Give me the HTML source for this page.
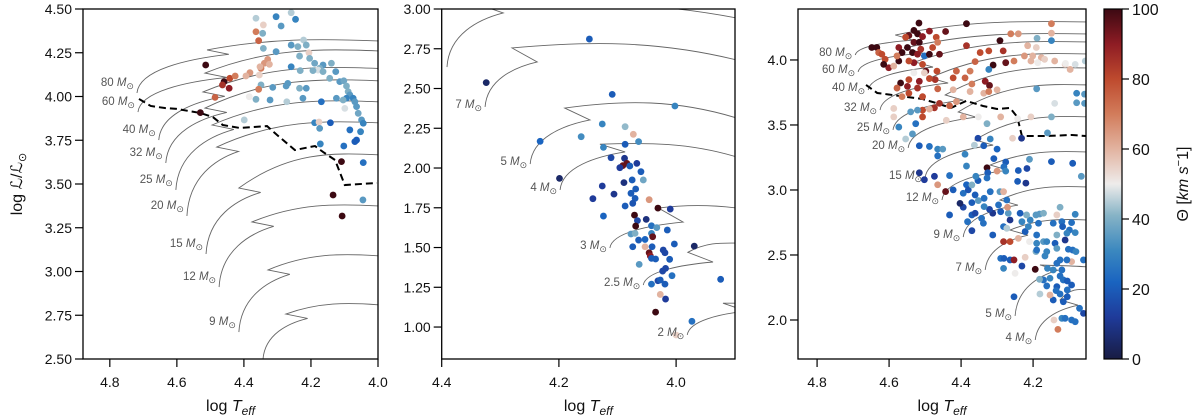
<!DOCTYPE html>
<html><head><meta charset="utf-8"><style>
html,body{margin:0;padding:0;background:#fff;}
svg{display:block;font-family:"Liberation Sans","DejaVu Sans",sans-serif;}
</style></head><body>
<svg id="chart" width="1200" height="417" viewBox="0 0 1200 417" xmlns="http://www.w3.org/2000/svg">
<defs>
<linearGradient id="cbgrad" x1="0" y1="1" x2="0" y2="0">
<stop offset="0" stop-color="#181c43"/><stop offset="0.12" stop-color="#1f3b9a"/><stop offset="0.22" stop-color="#1a64c0"/><stop offset="0.31" stop-color="#3b88bf"/><stop offset="0.41" stop-color="#86b3c6"/><stop offset="0.5" stop-color="#eeeceb"/><stop offset="0.6" stop-color="#e2b3a0"/><stop offset="0.7" stop-color="#d27c5b"/><stop offset="0.8" stop-color="#be4a2e"/><stop offset="0.9" stop-color="#8e1c24"/><stop offset="1" stop-color="#3c0912"/>
</linearGradient>
</defs>
</svg>
<script>
// ---------- data ----------
const trackMass1=["80","60","40","32","25","20","15","12","9",""];
const trackStartT1=[4.719,4.716,4.654,4.633,4.603,4.570,4.513,4.474,4.415,4.343];
const trackStartL1=[4.02,3.911,3.751,3.62,3.466,3.317,3.10,2.911,2.654,2.5];
const trackBackT1=[4.510,4.516,4.522,4.516,4.495,4.481,4.415,4.376,4.328,4.275];
const trackBackL1=[4.266,4.134,4.026,3.934,3.837,3.711,3.477,3.283,3.009,2.757];
const trackEndL1=[4.317,4.26,4.16,4.089,3.969,3.849,3.666,3.374,3.089,2.809];
const dashT1=[4.713,4.678,4.636,4.600,4.531,4.493,4.463,4.412,4.331,4.301,4.248,4.188,4.164,4.128,4.099,4.003];
const dashL1=[3.986,3.946,3.934,3.929,3.906,3.883,3.837,3.82,3.831,3.78,3.694,3.717,3.683,3.637,3.494,3.506];
const starT1=[4.364,4.304,4.259,4.246,4.342,4.289,4.364,4.344,4.356,4.342,4.304,4.259,4.239,4.222,4.214,4.206,4.234,4.204,4.189,4.164,4.139,4.174,4.179,4.259,4.232,4.194,4.164,4.126,4.144,4.114,4.102,4.094,4.089,4.084,4.074,4.069,4.064,4.059,4.049,4.044,4.094,4.099,4.104,4.124,4.169,4.224,4.234,4.214,4.269,4.274,4.314,4.349,4.356,4.364,4.384,4.322,4.272,4.399,4.189,4.176,4.142,4.174,4.084,4.052,4.064,4.069,4.102,4.172,4.044,4.109,4.514,4.459,4.464,4.444,4.442,4.426,4.486,4.530,4.382,4.394,4.354,4.349,4.339,4.329,4.324,4.352,4.134,4.107,4.045];
const starL1=[4.447,4.456,4.479,4.441,4.409,4.403,4.370,4.361,4.319,4.275,4.256,4.294,4.285,4.323,4.294,4.250,4.231,4.218,4.190,4.180,4.190,4.161,4.151,4.170,4.148,4.148,4.142,4.142,4.104,4.085,4.090,4.060,4.028,4.009,3.990,3.970,3.942,3.904,3.866,3.847,3.990,3.932,3.980,3.990,3.970,3.990,4.047,4.047,4.075,4.060,4.052,4.066,4.041,3.984,3.999,3.980,3.970,3.866,3.850,3.854,3.850,3.818,3.809,3.799,3.751,3.742,3.717,3.729,3.622,3.628,4.180,4.085,4.066,4.047,4.104,4.117,3.995,3.908,4.136,4.117,4.123,4.161,4.190,4.212,4.184,4.170,3.437,3.317,3.409];
const starV1=[45,30,45,30,55,35,70,40,75,40,35,35,40,45,40,55,40,40,38,35,40,40,48,30,40,40,40,35,40,35,38,40,40,35,30,35,35,38,35,30,30,48,40,35,25,35,40,35,35,35,35,40,70,40,50,35,45,45,30,55,20,35,25,30,20,20,25,30,25,100,100,100,85,90,80,70,75,100,65,60,55,70,65,65,60,60,100,100,35];

const trackMass2=["","7","5","4","3","2.5","2"];
const trackStartT2=[4.391,4.326,4.249,4.198,4.113,4.056,3.981];
const trackStartL2=[2.635,2.384,2.025,1.862,1.497,1.264,0.95];
const trackHookT2=[4.295,4.237,4.147,4.087,3.988,3.937,3.88];
const trackHookL2=[2.975,2.667,2.302,2.101,1.66,1.409,1.10];
const trackBackT2=[4.33,4.280,4.190,4.13,4.03,3.98,3.92];
const trackBackL2=[3.02,2.755,2.377,2.15,1.748,1.47,1.15];
const trackPeakL2=[3.05,2.80,2.43,2.16,1.77,1.53,1.15];
const trackEndL2=[2.943,2.679,2.314,2.069,1.748,1.528,1.15];
const starT2=[4.148,4.324,4.109,4.002,4.126,4.087,4.073,4.232,4.162,4.064,4.124,4.087,4.111,4.088,4.084,4.091,4.096,4.079,4.067,4.060,4.199,4.089,4.075,4.056,4.126,4.106,4.077,4.069,4.070,4.142,4.046,4.087,4.074,4.031,4.010,4.124,4.071,4.066,4.051,4.069,4.042,4.033,4.015,4.077,4.070,4.064,4.053,4.042,4.040,4.041,4.053,4.074,4.046,4.044,4.042,4.035,4.022,4.019,4.011,4.003,3.969,4.063,4.023,4.018,4.007,4.031,4.027,4.019,4.042,3.924,4.027,4.018,4.035,3.973,4.0];
const starL2=[2.811,2.537,2.463,2.390,2.277,2.260,2.212,2.168,2.197,2.166,2.130,2.149,2.065,2.061,2.029,2.015,2.002,2.013,2.029,1.977,1.935,1.908,1.925,1.925,1.887,1.836,1.841,1.868,1.809,1.807,1.801,1.761,1.778,1.748,1.742,1.698,1.704,1.669,1.677,1.635,1.637,1.625,1.610,1.585,1.589,1.547,1.551,1.589,1.568,1.505,1.505,1.505,1.467,1.447,1.432,1.428,1.484,1.467,1.426,1.522,1.509,1.394,1.352,1.369,1.323,1.291,1.296,1.270,1.270,1.300,1.205,1.176,1.094,1.036,0.95];
const starV2=[20,5,20,30,30,42,60,22,32,32,30,20,15,10,95,95,12,20,12,20,5,8,20,38,12,10,20,20,20,12,65,20,18,100,12,22,100,15,8,100,25,35,20,35,40,20,22,30,95,20,60,20,95,90,20,20,15,15,20,20,5,35,15,15,25,15,20,20,25,20,60,12,100,25,55];

const trackMass3=["80","60","40","32","25","20","15","12","9","7","5","4"];
const trackStartT3=[4.694,4.686,4.658,4.625,4.589,4.547,4.5,4.453,4.394,4.333,4.25,4.194];
const trackStartL3=[4.038,3.908,3.769,3.615,3.462,3.323,3.092,2.923,2.638,2.385,2.031,1.846];
const trackBackT3=[4.583,4.556,4.528,4.486,4.444,4.408,4.361,4.319,4.292,4.264,4.181,4.125];
const trackBackL3=[4.192,4.092,3.985,3.862,3.731,3.6,3.385,3.192,2.923,2.692,2.423,2.154];
const trackEndL3=[4.292,4.2,4.138,4.046,3.938,3.808,3.562,3.292,3.023,2.769,2.408,2.231];
const dashT3=[4.664,4.633,4.592,4.508,4.469,4.428,4.386,4.339,4.3,4.264,4.244,4.231,4.169,4.092,4.053];
const dashL3=[3.808,3.746,3.731,3.7,3.669,3.631,3.685,3.646,3.623,3.631,3.562,3.415,3.415,3.423,3.415];
const starT3=[4.517,4.385,4.531,4.521,4.545,4.507,4.554,4.488,4.443,4.469,4.648,4.634,4.629,4.573,4.549,4.531,4.516,4.512,4.564,4.535,4.521,4.502,4.488,4.460,4.479,4.465,4.385,4.347,4.323,4.283,4.292,4.241,4.262,4.149,4.149,4.149,4.215,4.191,4.201,4.177,4.224,4.253,4.276,4.311,4.323,4.361,4.375,4.413,4.389,4.422,4.467,4.498,4.507,4.531,4.545,4.573,4.578,4.620,4.611,4.601,4.615,4.587,4.531,4.502,4.472,4.488,4.516,4.545,4.568,4.578,4.545,4.564,4.521,4.549,4.507,4.465,4.422,4.370,4.333,4.321,4.337,4.323,4.300,4.375,4.413,4.432,4.460,4.474,4.488,4.507,4.507,4.587,4.540,4.521,4.587,4.573,4.554,4.526,4.535,4.516,4.488,4.465,4.451,4.465,4.441,4.394,4.352,4.328,4.290,4.243,4.206,4.257,4.232,4.160,4.149,4.353,4.319,4.337,4.300,4.363,4.389,4.309,4.276,4.281,4.328,4.326,4.276,4.241,4.217,4.210,4.149,4.090,4.066,4.353,4.385,4.359,4.432,4.474,4.502,4.516,4.465,4.443,4.422,4.394,4.385,4.380,4.300,4.220,4.243,4.328,4.189,4.206,4.187,4.168,4.140,4.111,4.083,4.055,4.097,4.079,4.079,4.057,4.057,4.140,4.190,4.041,4.110,
4.370,4.361,4.352,4.336,4.319,4.292,4.282,4.273,4.296,4.290,4.312,4.321,4.336,4.370,4.394,4.403,4.432,4.370,4.361,4.343,4.338,4.382,4.370,4.312,4.282,4.273,4.264,4.269,4.271,4.231,4.222,4.213,4.208,4.185,4.192,4.182,4.171,4.190,4.190,4.192,4.171,4.162,4.139,4.134,4.125,4.083,4.093,4.099,4.120,4.144,4.118,4.106,4.083,4.134,4.134,4.111,4.102,4.090,4.081,4.060,4.093,4.106,4.125,4.134,4.120,4.125,4.116,4.105,4.093,4.105,4.105,4.116,4.125,4.144,4.162,4.134,4.136,4.153,4.171,4.160,4.144,4.194,4.182,4.181,4.153,4.167,4.162,4.290,4.281,4.264,4.253,4.282,4.250,4.231,4.222,4.282,4.264,4.241,4.210,4.190,4.120,4.111,4.093,4.083,4.142,4.131,4.253,4.060,4.071,4.218,4.236];
const starL3=[4.284,4.279,4.227,4.201,4.188,4.180,4.175,4.222,4.219,4.175,4.096,4.096,4.057,4.096,4.096,4.136,4.136,4.083,4.057,4.057,4.044,4.031,4.044,4.044,4.096,4.136,4.110,4.057,4.070,4.070,4.149,4.201,4.201,4.279,4.206,4.149,4.110,4.096,4.031,4.018,4.031,3.992,3.979,3.961,3.927,3.987,3.914,3.914,3.862,3.862,3.914,3.914,3.966,3.979,3.992,3.992,4.031,4.044,4.005,3.940,3.966,3.953,3.901,3.901,3.849,3.857,3.836,3.849,3.823,3.784,3.744,3.718,3.784,3.797,3.718,3.778,3.771,3.815,3.836,3.804,3.744,3.757,3.771,3.757,3.679,3.648,3.666,3.632,3.622,3.614,3.562,3.627,3.601,3.614,3.562,3.484,3.392,3.510,3.431,3.340,3.335,3.314,3.314,3.262,3.536,3.562,3.562,3.510,3.562,3.549,3.562,3.398,3.398,3.439,3.562,3.398,3.392,3.340,3.314,3.345,3.275,3.241,3.215,3.178,3.171,3.132,3.145,3.150,3.165,3.236,3.218,3.205,3.105,3.072,3.040,3.105,3.111,3.105,3.079,3.132,3.040,2.988,3.001,2.975,3.184,3.001,3.145,3.053,3.066,3.092,4.167,3.992,3.979,4.005,3.992,3.966,3.966,3.992,3.927,3.744,3.671,3.737,3.666,3.666,3.778,4.083,3.974,
3.039,2.962,2.918,2.936,2.987,2.987,2.987,2.923,2.885,2.833,2.821,2.851,2.872,2.903,2.867,2.897,2.808,2.808,2.821,2.782,2.744,2.756,2.687,2.654,2.718,2.705,2.769,2.821,2.867,2.756,2.680,2.718,2.769,2.744,2.808,2.815,2.821,2.654,2.590,2.526,2.603,2.603,2.590,2.808,2.867,2.813,2.749,2.692,2.756,2.744,2.718,2.667,2.672,2.654,2.551,2.615,2.544,2.538,2.526,2.462,2.449,2.462,2.462,2.436,2.385,2.338,2.308,2.300,2.269,2.231,2.179,2.141,2.200,2.154,2.262,2.256,2.226,2.321,2.308,2.397,2.385,2.390,2.313,2.200,2.192,2.492,2.526,2.474,2.474,2.462,2.462,2.397,2.359,2.415,2.482,2.603,2.603,2.628,2.603,2.538,2.013,2.013,2.000,1.987,2.000,1.928,2.179,2.051,2.090,2.808,2.821];
const starV3=[100,100,100,100,95,90,80,90,95,80,100,100,75,90,100,95,100,85,100,100,90,25,100,95,80,70,85,80,80,85,100,65,70,70,60,30,60,55,60,60,65,70,95,100,30,75,70,75,75,80,80,95,80,90,80,100,70,80,80,90,100,60,50,55,85,80,90,80,100,75,80,70,85,90,80,75,60,70,90,95,60,70,60,60,65,75,85,85,60,80,80,55,35,35,55,30,45,25,35,20,25,30,35,25,55,60,50,40,60,50,55,55,10,35,40,15,30,20,22,45,30,20,20,25,100,20,30,20,15,35,20,20,35,20,22,30,25,12,12,10,65,95,20,25,30,18,65,10,20,25,40,60,50,55,60,55,48,45,60,30,35,35,35,48,35,30,50,
40,20,35,25,25,35,60,25,25,20,10,15,30,20,15,5,20,20,15,25,25,25,15,20,25,45,10,35,65,30,20,30,30,25,35,35,40,25,30,40,35,30,20,55,40,30,25,25,25,25,20,30,30,40,35,10,25,25,30,25,60,25,25,25,25,25,25,20,20,25,20,20,25,20,25,20,25,30,25,30,30,100,40,45,60,30,30,25,20,20,90,30,50,15,55,85,80,60,50,25,30,25,25,25,55,70,20,15,25,40,20];

const ticks1X=[4.8,4.6,4.4,4.2,4.0], ticks1Y=[2.5,2.75,3.0,3.25,3.5,3.75,4.0,4.25,4.5];
const ticks2X=[4.4,4.2,4.0], ticks2Y=[1.0,1.25,1.5,1.75,2.0,2.25,2.5,2.75,3.0];
const ticks3X=[4.8,4.6,4.4,4.2], ticks3Y=[2.0,2.5,3.0,3.5,4.0];
const cbTicks=[0,20,40,60,80,100];

// ---------- helpers ----------
const NS="http://www.w3.org/2000/svg";
const svg=document.getElementById('chart');
function mk(tag,attrs,parent){const e=document.createElementNS(NS,tag);for(const k in attrs)e.setAttribute(k,attrs[k]);(parent||svg).appendChild(e);return e;}
const stops=[[0,[24,28,67]],[0.12,[31,59,154]],[0.22,[26,100,192]],[0.31,[59,136,191]],[0.41,[134,179,198]],[0.5,[238,236,235]],[0.6,[226,179,160]],[0.7,[210,124,91]],[0.8,[190,74,46]],[0.9,[142,28,36]],[1,[60,9,18]]];
function cmap(v){let f=Math.max(0,Math.min(1,v/100));for(let i=1;i<stops.length;i++){if(f<=stops[i][0]){const a=stops[i-1],b=stops[i];const u=(f-a[0])/(b[0]-a[0]);const c=a[1].map((x,j)=>Math.round(x+(b[1][j]-x)*u));return `rgb(${c[0]},${c[1]},${c[2]})`;}}return 'rgb(60,9,18)';}

const panels=[
 {x0:83,x1:378,y0:9,y1:359,tL:4.88,tR:4.0,lB:2.5,lT:4.5,fmt:v=>v.toFixed(2),xt:ticks1X,yt:ticks1Y},
 {x0:441.7,x1:735,y0:9,y1:359,tL:4.4,tR:3.8995,lB:0.799,lT:3.0,fmt:v=>v.toFixed(2),xt:ticks2X,yt:ticks2Y},
 {x0:798,x1:1086,y0:9,y1:359,tL:4.853,tR:4.053,lB:1.70,lT:4.392,fmt:v=>v.toFixed(1),xt:ticks3X,yt:ticks3Y}
];
panels.forEach((p,i)=>{p.X=t=>p.x0+(p.tL-t)/(p.tL-p.tR)*(p.x1-p.x0);p.Y=l=>p.y1-(l-p.lB)/(p.lT-p.lB)*(p.y1-p.y0);
 const cp=mk('clipPath',{id:'clip'+i},svg.querySelector('defs'));mk('rect',{x:p.x0,y:p.y0,width:p.x1-p.x0,height:p.y1-p.y0},cp);});

function drawTrack(p,g,S,H,B,lp,le){
 const Sx=p.X(S[0]),Sy=p.Y(S[1]),Hx=p.X(H[0]),Hy=p.Y(H[1]),Bx=p.X(B[0]),By=p.Y(B[1]),R=p.x1+2,Ey=p.Y(le),Py=p.Y(lp);
 const d=`M${Sx},${Sy} C${Sx+2},${Sy-0.6*(Sy-Hy)} ${Hx-0.45*(Hx-Sx)},${Hy+0.12*(Sy-Hy)} ${Hx},${Hy} L${Bx},${By} C${Bx+0.35*(R-Bx)},${Py} ${Bx+0.65*(R-Bx)},${Py} ${R},${Ey}`;
 const e=mk('path',{d:d,fill:'none',stroke:'#666','stroke-width':0.9},g);
 
 
}
function drawLabel(p,g,m,S,dy){
 if(!m)return;
 const t=mk('text',{x:p.X(S[0])-3,y:p.Y(S[1])+dy,'text-anchor':'end','font-size':11.5,fill:'#555'},g);
 
 
 t.innerHTML=`${m} <tspan font-style="italic">M</tspan><tspan font-size="9" dy="3">⊙</tspan>`;
}
function drawDash(p,g,T,L){
 const d=T.map((t,i)=>(i?'L':'M')+p.X(t)+','+p.Y(L[i])).join(' ');
 const e=mk('path',{d:d,fill:'none',stroke:'#000','stroke-width':2,'stroke-dasharray':'7,4'},g);
 
 
}
function drawStars(p,g,T,L,V){
 T.forEach((t,i)=>{const c=mk('circle',{cx:p.X(t),cy:p.Y(L[i]),r:3.4,fill:cmap(V[i])},g);
 
 });
}
function drawAxes(p,i){
 const g=mk('g',{});
 
 
 mk('rect',{x:p.x0,y:p.y0,width:p.x1-p.x0,height:p.y1-p.y0,fill:'none',stroke:'#000','stroke-width':1.3},g);
 p.xt.forEach(v=>{const x=p.X(v);mk('line',{x1:x,x2:x,y1:p.y1,y2:p.y1+8,stroke:'#000','stroke-width':1.2},g);
  const t=mk('text',{x:x,y:p.y1+28,'text-anchor':'middle','font-size':14,fill:'#111'},g);t.textContent=v.toFixed(1);
  
  });
 p.yt.forEach(v=>{const y=p.Y(v);mk('line',{x1:p.x0-8,x2:p.x0,y1:y,y2:y,stroke:'#000','stroke-width':1.2},g);
  const t=mk('text',{x:p.x0-11,y:y+5,'text-anchor':'end','font-size':14,fill:'#111'},g);t.textContent=p.fmt(v);
  
  });
 const xl=mk('text',{x:(p.x0+p.x1)/2,y:411,'text-anchor':'middle','font-size':16,fill:'#111'},g);
 
 
 xl.innerHTML='log <tspan font-style="italic">T</tspan><tspan font-style="italic" font-size="12" dy="4">eff</tspan>';
}

// panel 1
{const p=panels[0];const g=mk('g',{'clip-path':'url(#clip0)'});
 
 
 trackMass1.forEach((m,i)=>{const B=[trackBackT1[i],trackBackL1[i]];drawTrack(p,g,[trackStartT1[i],trackStartL1[i]],[B[0]-0.065,B[1]-0.025],B,trackEndL1[i]+0.015,trackEndL1[i]);});
 drawDash(p,g,dashT1,dashL1);drawStars(p,g,starT1,starL1,starV1);
 const gl=mk('g',{});trackMass1.forEach((m,i)=>drawLabel(p,gl,m,[trackStartT1[i],trackStartL1[i]],-7));
 drawAxes(p,0);}
// panel 2
{const p=panels[1];const g=mk('g',{'clip-path':'url(#clip1)'});
 
 
 trackMass2.forEach((m,i)=>drawTrack(p,g,[trackStartT2[i],trackStartL2[i]],[trackHookT2[i],trackHookL2[i]],[trackBackT2[i],trackBackL2[i]],trackPeakL2[i],trackEndL2[i]));
 drawStars(p,g,starT2,starL2,starV2);
 const gl=mk('g',{});trackMass2.forEach((m,i)=>drawLabel(p,gl,m,[trackStartT2[i],trackStartL2[i]],1));
 drawAxes(p,1);}
// panel 3
{const p=panels[2];const g=mk('g',{'clip-path':'url(#clip2)'});
 
 
 trackMass3.forEach((m,i)=>{const B=[trackBackT3[i],trackBackL3[i]];drawTrack(p,g,[trackStartT3[i],trackStartL3[i]],[B[0]-0.05,B[1]-0.04],B,trackEndL3[i]+0.01,trackEndL3[i]);});
 drawDash(p,g,dashT3,dashL3);drawStars(p,g,starT3,starL3,starV3);
 const gl=mk('g',{});trackMass3.forEach((m,i)=>drawLabel(p,gl,m,[trackStartT3[i],trackStartL3[i]],1));
 drawAxes(p,2);}

// y-axis title
{const t=mk('text',{x:0,y:0,transform:'translate(22,184) rotate(-90)','text-anchor':'middle','font-size':16,fill:'#111'});
 
 
 t.innerHTML='log <tspan font-style="italic">ℒ</tspan>/<tspan font-style="italic">ℒ</tspan><tspan font-size="11" dy="4">⊙</tspan>';}

// colorbar
{const g=mk('g',{});
 
 
 const x0=1104,x1=1122,y0=9,y1=359;
 mk('rect',{x:x0,y:y0,width:x1-x0,height:y1-y0,fill:'url(#cbgrad)',stroke:'#000','stroke-width':1.2},g);
 cbTicks.forEach(v=>{const y=y1-(v/100)*(y1-y0);mk('line',{x1:x1,x2:x1+7,y1:y,y2:y,stroke:'#000','stroke-width':1.2},g);
  const t=mk('text',{x:x1+10,y:y+6,'font-size':16,fill:'#111'},g);t.textContent=v;
  
  });
 const t=mk('text',{x:0,y:0,transform:'translate(1188,184) rotate(-90)','text-anchor':'middle','font-size':16,fill:'#111'},g);
 
 
 t.innerHTML='Θ [<tspan font-style="italic">km s</tspan><tspan font-size="11" dy="-6">−</tspan><tspan dy="6">1]</tspan>';}
</script>
</body></html>
